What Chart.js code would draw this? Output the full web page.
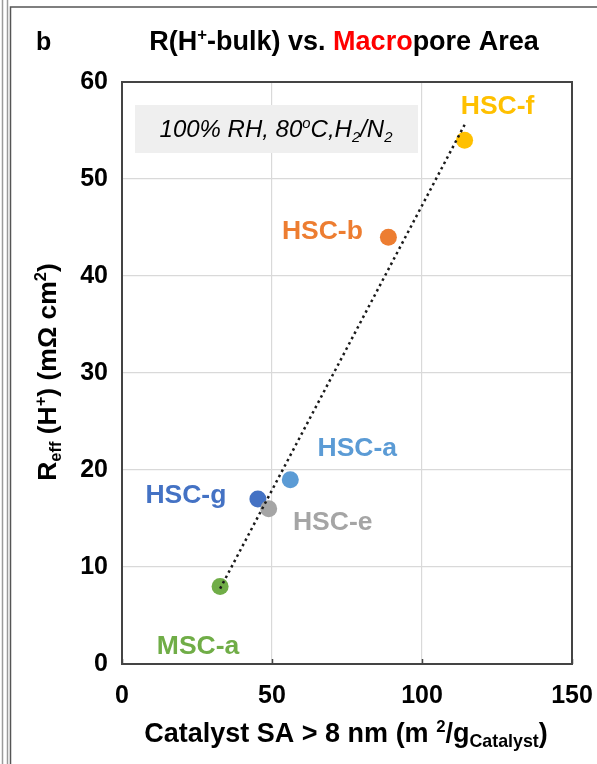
<!DOCTYPE html>
<html>
<head>
<meta charset="utf-8">
<script src="https://cdn.jsdelivr.net/npm/chart.js@4/dist/chart.umd.min.js"></script>
<style>
  html, body { margin: 0; padding: 0; background: #fff; overflow: hidden; }
  canvas { display: block; }
</style>
</head>
<body>
<canvas id="chart" width="597" height="764"></canvas>
<script>
// Samples: macropore surface area (> 8 nm) vs. effective bulk proton resistance
const samples = ['HSC-f', 'HSC-b', 'HSC-a', 'HSC-g', 'HSC-e', 'MSC-a'];
const macroporeSA = [114.2, 88.8, 56.1, 45.3, 48.9, 32.7];   // m2/g catalyst
const resistance = [54, 44, 19, 17, 16, 8];                   // mOhm cm2
const sampleColors = ['#FFC000', '#ED7D31', '#5B9BD5', '#4472C4', '#A5A5A5', '#70AD47'];
const xTicks = [0, 50, 100, 150];
const yTicks = [0, 10, 20, 30, 40, 50, 60];

// where each sample name sits relative to its marker (px)
const labelOffsets = [[33, -34], [-66, -6], [67, -31], [-72, -3], [64, 14], [-22, 60]];

const FAMILY = '"Liberation Sans", Arial, Helvetica, sans-serif';

// least-squares trend line over the samples
function linearFit(xs, ys) {
  const n = xs.length;
  const mx = xs.reduce((a, b) => a + b, 0) / n;
  const my = ys.reduce((a, b) => a + b, 0) / n;
  let sxy = 0, sxx = 0;
  for (let i = 0; i < n; i++) {
    sxy += (xs[i] - mx) * (ys[i] - my);
    sxx += (xs[i] - mx) * (xs[i] - mx);
  }
  const m = sxy / sxx;
  return { m, b: my - m * mx };
}
const fit = linearFit(macroporeSA, resistance);
const xLo = Math.min(...macroporeSA);
const xHi = Math.max(...macroporeSA);
const trendPoints = [
  { x: xLo, y: fit.m * xLo + fit.b },
  { x: xHi, y: fit.m * xHi + fit.b }
];

// text with superscripts / subscripts
function richFont(seg, size, style) {
  const s = (seg.k === 'sup' || seg.k === 'sub') ? size * (seg.scale || 0.62) : size;
  return (style || 'bold') + ' ' + s + 'px ' + FAMILY;
}
function drawRich(ctx, segs, x, y, size, align, style) {
  let width = 0;
  const widths = segs.map(seg => {
    ctx.font = richFont(seg, size, style);
    const w = ctx.measureText(seg.t).width;
    width += w;
    return w;
  });
  let cx = align === 'center' ? x - width / 2 : (align === 'right' ? x - width : x);
  ctx.textBaseline = 'alphabetic';
  ctx.textAlign = 'left';
  segs.forEach((seg, i) => {
    ctx.font = richFont(seg, size, style);
    ctx.fillStyle = seg.c || '#000';
    let dy = 0;
    if (seg.k === 'sup') dy = -size * 0.36;
    if (seg.k === 'sub') dy = size * 0.2;
    ctx.fillText(seg.t, cx, y + dy);
    cx += widths[i];
  });
}

const decorations = {
  id: 'decorations',
  beforeDraw(chart) {
    const ctx = chart.ctx;
    ctx.save();
    ctx.fillStyle = '#fff';
    ctx.fillRect(0, 0, chart.width, chart.height);
    // panel edges
    ctx.strokeStyle = '#9a9a9a';
    ctx.lineWidth = 1.5;
    ctx.beginPath(); ctx.moveTo(2.5, 0); ctx.lineTo(2.5, chart.height); ctx.stroke();
    ctx.beginPath(); ctx.moveTo(7.5, 0); ctx.lineTo(7.5, chart.height); ctx.stroke();
    ctx.strokeStyle = '#555';
    ctx.beginPath(); ctx.moveTo(10.5, chart.height); ctx.lineTo(10.5, 7); ctx.lineTo(chart.width, 7); ctx.stroke();

    // heading
    ctx.font = 'bold 25px ' + FAMILY;
    ctx.fillStyle = '#000';
    ctx.textAlign = 'left';
    ctx.fillText('b', 36, 50);
    drawRich(ctx, [
      { t: 'R(H' }, { t: '+', k: 'sup' }, { t: '-bulk) vs. ' },
      { t: 'Macro', c: '#FF0000' }, { t: 'pore Area' }
    ], 344, 50, 27, 'center');
    ctx.restore();
  },
  beforeDatasetsDraw(chart) {
    const ctx = chart.ctx;
    const a = chart.chartArea;
    const xs = chart.scales.x;
    ctx.save();
    // condition note
    ctx.fillStyle = '#EFEFEF';
    ctx.fillRect(a.left + 13, a.top + 23, 283, 48);
    drawRich(ctx, [
      { t: '100% RH, 80' }, { t: 'o', k: 'sup' }, { t: 'C,H' }, { t: '2', k: 'sub' },
      { t: '/N' }, { t: '2', k: 'sub' }
    ], a.left + 154, a.top + 55, 24, 'center', 'italic');

    // plot frame
    ctx.strokeStyle = '#444';
    ctx.lineWidth = 2;
    ctx.strokeRect(a.left, a.top, a.right - a.left, a.bottom - a.top);
    // inner tick marks on the bottom axis
    ctx.lineWidth = 1.5;
    xTicks.forEach(v => {
      const px = Math.round(xs.getPixelForValue(v)) + 0.5;
      ctx.beginPath(); ctx.moveTo(px, a.bottom); ctx.lineTo(px, a.bottom - 5); ctx.stroke();
    });

    // axis titles
    drawRich(ctx, [
      { t: 'Catalyst SA > 8 nm (m ' }, { t: '2', k: 'sup' }, { t: '/g' },
      { t: 'Catalyst', k: 'sub', scale: 0.66 }, { t: ')' }
    ], 346, 742, 27, 'center');
    ctx.translate(56, 372);
    ctx.rotate(-Math.PI / 2);
    drawRich(ctx, [
      { t: 'R' }, { t: 'eff', k: 'sub' }, { t: ' (H' }, { t: '+', k: 'sup' },
      { t: ') (m\u03A9 cm' }, { t: '2', k: 'sup' }, { t: ')' }
    ], 0, 0, 26.5, 'center');
    ctx.restore();
  },
  afterDatasetsDraw(chart) {
    const ctx = chart.ctx;
    const meta = chart.getDatasetMeta(1);
    ctx.save();
    ctx.font = 'bold 26.5px ' + FAMILY;
    ctx.textAlign = 'center';
    ctx.textBaseline = 'middle';
    meta.data.forEach((pt, i) => {
      ctx.fillStyle = sampleColors[i];
      ctx.fillText(samples[i], pt.x + labelOffsets[i][0], pt.y + labelOffsets[i][1]);
    });
    ctx.restore();
  }
};

const tickFont = { family: FAMILY, size: 25, weight: 'bold' };

new Chart(document.getElementById('chart'), {
  data: {
    datasets: [
      {
        type: 'line',
        data: trendPoints,
        borderColor: '#1a1a1a',
        borderWidth: 2.5,
        borderDash: [2.5, 3.5],
        pointRadius: 0,
        fill: false,
        tension: 0,
        order: 0
      },
      {
        type: 'scatter',
        data: macroporeSA.map((x, i) => ({ x, y: resistance[i] })),
        backgroundColor: sampleColors,
        pointRadius: 8.5,
        pointHoverRadius: 8.5,
        borderWidth: 0,
        order: 1
      }
    ]
  },
  options: {
    responsive: false,
    animation: false,
    events: [],
    layout: { padding: { left: 0, top: 82, right: 25, bottom: 0 } },
    plugins: { legend: { display: false }, tooltip: { enabled: false } },
    scales: {
      x: {
        type: 'linear',
        min: 0, max: 150,
        afterBuildTicks: s => { s.ticks = xTicks.map(v => ({ value: v })); },
        afterFit: s => { s.height = 100; s.paddingLeft = 0; s.paddingRight = 0; },
        ticks: { font: tickFont, color: '#000', padding: 17, maxRotation: 0 },
        grid: { color: '#D9D9D9', lineWidth: 1.2, drawTicks: false },
        border: { display: false }
      },
      y: {
        type: 'linear',
        min: 0, max: 60,
        afterBuildTicks: s => { s.ticks = yTicks.map(v => ({ value: v })); },
        afterFit: s => { s.width = 122; },
        ticks: { font: tickFont, color: '#000', padding: 14 },
        grid: { color: '#D9D9D9', lineWidth: 1.2, drawTicks: false },
        border: { display: false }
      }
    }
  },
  plugins: [decorations]
});
</script>
</body>
</html>
